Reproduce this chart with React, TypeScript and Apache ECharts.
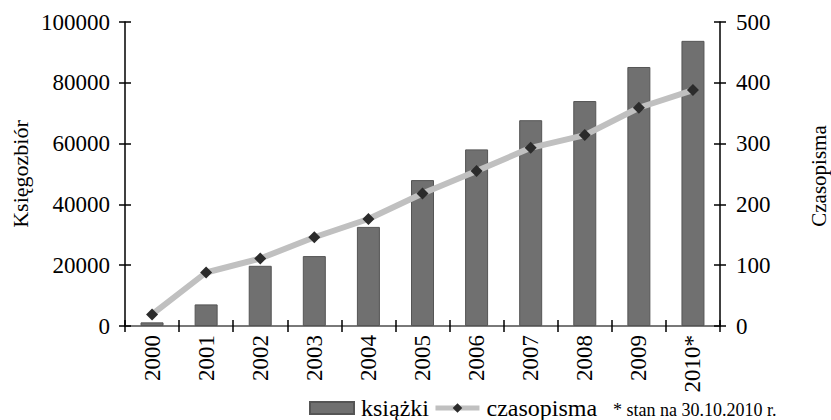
import React, { useEffect, useRef } from "react";
import * as echarts from "echarts";

const years = ["2000", "2001", "2002", "2003", "2004", "2005", "2006", "2007", "2008", "2009", "2010*"];
const ksiazki = [1200, 7100, 19800, 23000, 32600, 48000, 58100, 67700, 74000, 85200, 93800];
const czasopisma = [19, 88, 111, 146, 176, 218, 255, 293, 314, 359, 388];
const leftTitle = "Księgozbiór";
const rightTitle = "Czasopisma";
const note = "* stan na 30.10.2010 r.";

const FONT = "Times New Roman, Liberation Serif, serif";

export default function App() {
  const ref = useRef<HTMLDivElement>(null);
  useEffect(() => {
    document.body.style.margin = "0";
    const chart = echarts.init(ref.current!, null, { renderer: "svg" });
    const gridRect = { left: 125, right: 111, top: 22, bottom: 94 };
    const axisLineStyle = { color: "#000", width: 1.5 };
    const tickStyle = { color: "#000", width: 1.5 };
    const labelStyle = { color: "#000", fontSize: 23, fontFamily: FONT };
    const plain = (v: number) => String(v);
    chart.setOption({
      animation: false,
      textStyle: { fontFamily: FONT, color: "#000" },
      grid: [
        { ...gridRect, containLabel: false },
        { ...gridRect, containLabel: false },
      ],
      xAxis: [
        {
          type: "category",
          gridIndex: 0,
          data: years,
          position: "bottom",
          axisLine: { lineStyle: axisLineStyle },
          axisTick: { show: true, length: 6, lineStyle: tickStyle },
          axisLabel: { ...labelStyle, rotate: 90, margin: 9, interval: 0 },
        },
        {
          type: "category",
          gridIndex: 0,
          data: years,
          position: "top",
          axisLine: { lineStyle: { color: "#8c8c8c", width: 1.5 } },
          axisTick: { show: false },
          axisLabel: { show: false },
        },
        {
          type: "category",
          gridIndex: 1,
          data: years,
          position: "bottom",
          axisLine: { show: false },
          axisTick: { show: true, inside: true, length: 6, lineStyle: tickStyle },
          axisLabel: { show: false },
        },
      ],
      yAxis: [
        {
          type: "value",
          gridIndex: 0,
          position: "left",
          min: 0,
          max: 100000,
          interval: 20000,
          axisLine: { show: true, lineStyle: axisLineStyle },
          axisTick: { show: true, length: 6, lineStyle: tickStyle },
          axisLabel: { ...labelStyle, margin: 15, formatter: plain },
          splitLine: { show: false },
        },
        {
          type: "value",
          gridIndex: 0,
          position: "right",
          min: 0,
          max: 500,
          interval: 100,
          axisLine: { show: true, lineStyle: axisLineStyle },
          axisTick: { show: true, length: 6, lineStyle: tickStyle },
          axisLabel: { ...labelStyle, margin: 16, formatter: plain },
          splitLine: { show: false },
        },
        {
          type: "value",
          gridIndex: 1,
          position: "left",
          min: 0,
          max: 100000,
          interval: 20000,
          axisLine: { show: false },
          axisTick: { show: true, inside: true, length: 6, lineStyle: tickStyle },
          axisLabel: { show: false },
          splitLine: { show: false },
        },
        {
          type: "value",
          gridIndex: 1,
          position: "right",
          min: 0,
          max: 500,
          interval: 100,
          axisLine: { show: false },
          axisTick: { show: true, inside: true, length: 6, lineStyle: tickStyle },
          axisLabel: { show: false },
          splitLine: { show: false },
        },
      ],
      legend: {
        left: 309,
        top: 396,
        itemWidth: 44,
        itemHeight: 12,
        itemGap: 4,
        padding: 0,
        textStyle: { fontSize: 24, color: "#000", fontFamily: FONT, padding: [0, 0, 0, 2] },
        data: [
          { name: "książki", icon: "rect" },
          { name: "czasopisma", lineStyle: { width: 5, color: "#c0c0c0" } },
        ],
      },
      series: [
        {
          name: "książki",
          type: "bar",
          xAxisIndex: 0,
          yAxisIndex: 0,
          data: ksiazki,
          barWidth: 23,
          itemStyle: { color: "#707070", borderColor: "#555555", borderWidth: 1 },
        },
        {
          name: "czasopisma",
          type: "line",
          xAxisIndex: 0,
          yAxisIndex: 1,
          data: czasopisma,
          symbol: "diamond",
          symbolSize: 12,
          lineStyle: { color: "#c0c0c0", width: 6 },
          itemStyle: { color: "#2b2b2b" },
          z: 5,
        },
      ],
      graphic: [
        {
          type: "text",
          x: 20,
          y: 174,
          rotation: Math.PI / 2,
          style: {
            text: leftTitle,
            fontSize: 22,
            fontFamily: FONT,
            fill: "#000",
            align: "center",
            verticalAlign: "middle",
          },
        },
        {
          type: "text",
          x: 819,
          y: 176,
          rotation: Math.PI / 2,
          style: {
            text: rightTitle,
            fontSize: 21,
            fontFamily: FONT,
            fill: "#000",
            align: "center",
            verticalAlign: "middle",
          },
        },
        {
          type: "text",
          x: 613,
          y: 410,
          style: {
            text: note,
            fontSize: 18,
            fontFamily: FONT,
            fill: "#000",
            align: "left",
            verticalAlign: "middle",
          },
        },
      ],
    });
    return () => chart.dispose();
  }, []);
  return <div ref={ref} style={{ width: 831, height: 420 }} />;
}
